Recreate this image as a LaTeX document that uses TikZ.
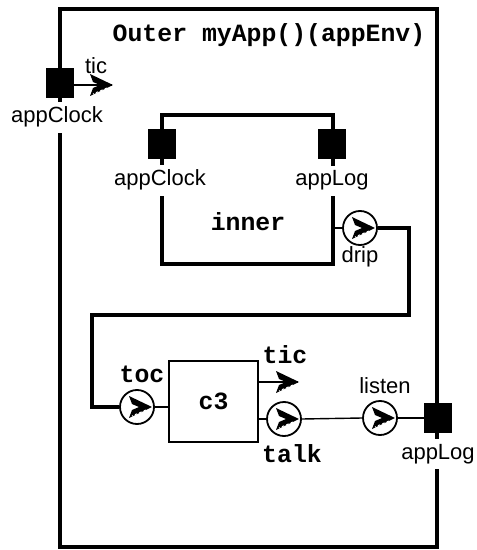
\documentclass[tikz,border=0pt]{standalone}
\usepackage{fontspec}
\setmainfont{Liberation Sans}
\newfontfamily\cour{Liberation Mono}
\begin{document}
\begin{tikzpicture}[x=0.5pt,y=-0.5pt,
  port/.style={fill=black, minimum width=14pt, minimum height=15pt, inner sep=0pt},
  circport/.style={circle, draw, line width=0.9pt, minimum size=17pt, inner sep=0pt, fill=white},
  lbl/.style={font=\fontsize{11}{13}\selectfont, inner sep=1pt, anchor=base},
  lblw/.style={lbl, fill=white, inner sep=2.5pt},
  code/.style={font=\cour\bfseries\fontsize{12.4}{14}\selectfont, inner sep=1pt, anchor=base},
  thickwire/.style={line width=1.6pt},
  thinwire/.style={line width=0.7pt},
  chev/.pic={
    \fill (-22,-11) -- (1,0) -- (-22,11) -- (-19,3) -- (-12,0) -- (-19,-3) -- cycle;
    \draw[white, line width=0.5pt, dash pattern=on 1.2pt off 1.2pt] (-5,3) -- (-19,9);
  }]
\useasboundingbox (0,0) rectangle (476,550);
% boxes
\node[draw, line width=2.3pt, minimum width=188.5pt, minimum height=269pt] (outer) at (248.5,278) {};
\node[code] (title) at (269,42) {Outer myApp()(appEnv)};
\node[draw, line width=1.6pt, minimum width=85.5pt, minimum height=74.5pt] (inner) at (247.5,189.5) {};
\node[code] (innerlbl) at (248,231) {inner};
\node[draw, line width=1pt, minimum width=44.5pt, minimum height=40.5pt,
      font=\cour\bfseries\fontsize{12.4}{14}\selectfont] (c3) at (213.5,401.5) {c3};
% ports on boxes
\node[port] (oClock) at (60,83) {};
\node[port] (iClock) at (162,144) {};
\node[port] (iLog) at (332,144) {};
\node[port] (oLog) at (438,418) {};
% port labels breaking the borders
\node[lblw] (oClockL) at (57,123) {appClock};
\node[lblw] (iClockL) at (160,186) {appClock};
\node[lblw] (iLogL) at (332,186) {appLog};
\node[lblw] (oLogL) at (438,459) {appLog};
% circle ports
\node[circport] (drip) at (360,228) {};
\node[circport] (toc) at (137,407) {};
\node[circport] (talk) at (284,419) {};
\node[circport] (listen) at (380,418) {};
\pic at ([xshift=7pt]drip.center) {chev};
\pic at ([xshift=7pt]toc.center) {chev};
\pic at ([xshift=7pt]talk.center) {chev};
\pic at ([xshift=7pt]listen.center) {chev};
% labels
\node[lbl] (oTicL) at (96,74) {tic};
\node[lbl] (dripL) at (360,263) {drip};
\node[lbl] (listenL) at (385,393) {listen};
\node[code] (tocL) at (142,382) {toc};
\node[code] (ticL) at (285,363) {tic};
\node[code] (talkL) at (292,462) {talk};
% connectors
\coordinate (oTicEnd) at (112,85);
\draw[thinwire] (oTicEnd -| oClock.east) -- (oTicEnd);
\pic at (oTicEnd) {chev};
\coordinate (ticEnd) at (298,382);
\draw[thinwire] (ticEnd -| c3.east) -- (ticEnd);
\pic at (ticEnd) {chev};
\draw[thinwire] (drip.west -| inner.east) -- (drip.west);
\coordinate (b1) at (409,315);
\coordinate (b2) at (92,315);
\draw[thickwire, line join=miter] (drip.east) -| (b1) -- (b2) |- (toc.west);
\draw[thinwire] (toc.east) -- (toc.east -| c3.west);
\draw[thinwire] (talk.west) -- (talk.west -| c3.east);
\draw[thinwire] (talk.east) -- (listen.west);
\draw[thinwire] (listen.east) -- (oLog.west);
\end{tikzpicture}
\end{document}
